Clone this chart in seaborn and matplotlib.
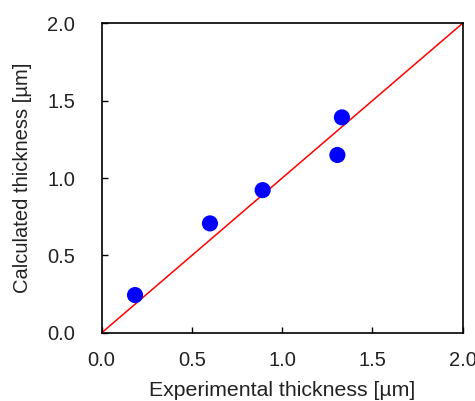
import pandas as pd
import matplotlib
matplotlib.use("Agg")
import matplotlib.pyplot as plt
import seaborn as sns

sns.set_theme(style="ticks")
plt.rcParams["font.family"] = ["Liberation Sans", "DejaVu Sans"]

# measured vs calculated thickness (um)
experimental = [0.185, 0.60, 0.892, 1.306, 1.331]
calculated = [0.244, 0.707, 0.922, 1.149, 1.392]
ideal = [0.0, 2.0]
ticks = [0.0, 0.5, 1.0, 1.5, 2.0]

df = pd.DataFrame({"exp": experimental, "calc": calculated})

fig = plt.figure(figsize=(4.75, 4.01), dpi=100)
ax = fig.add_axes([0.214, 0.170, 0.760, 0.772])

sns.lineplot(x=ideal, y=ideal, color="#ff0000", linewidth=1.1, ax=ax)
sns.scatterplot(data=df, x="exp", y="calc", color="#0000ff", s=135,
                edgecolor="none", ax=ax, zorder=3)

ax.set_xlim(0, 2)
ax.set_ylim(0, 2)
ax.set_xticks(ticks)
ax.set_yticks(ticks)
ax.set_xticklabels([f"{t:.1f}" for t in ticks])
ax.set_yticklabels([f"{t:.1f}" for t in ticks])
ax.tick_params(direction="in", length=4, width=1, colors="black",
               labelsize=14.5, top=False, right=False)
ax.tick_params(axis="x", pad=13)
ax.tick_params(axis="y", pad=19)
for lab in ax.get_xticklabels() + ax.get_yticklabels():
    lab.set_color("#222222")
for side in ["top", "right", "bottom", "left"]:
    ax.spines[side].set_visible(True)
    ax.spines[side].set_color("black")
    ax.spines[side].set_linewidth(1.2)

ax.set_xlabel("Experimental thickness [µm]", fontsize=15.3, color="#222222",
              labelpad=8)
ax.set_ylabel("Calculated thickness [µm]", fontsize=14.5, color="#222222",
              labelpad=11)

fig.savefig("out.png", dpi=100)
